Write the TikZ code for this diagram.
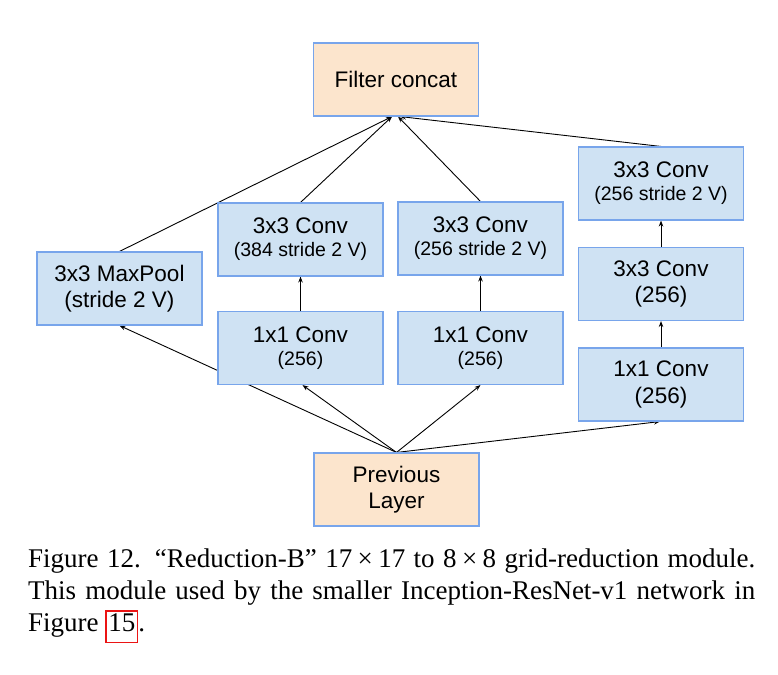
\documentclass[tikz,border=0pt]{standalone}
\usepackage{fontspec}
\setmainfont{Liberation Sans}
\newfontfamily\capfont{Liberation Serif}
\usetikzlibrary{arrows.meta,backgrounds}
\definecolor{boxblue}{RGB}{207,226,243}
\definecolor{boxorange}{RGB}{252,229,205}
\definecolor{edgeblue}{RGB}{120,165,235}
\definecolor{linkred}{RGB}{235,20,20}
\begin{document}
\begin{tikzpicture}[x=1pt,y=-1pt,
  layer/.style={draw=edgeblue,line width=1.1pt,minimum width=165pt,minimum height=73pt,inner sep=0pt,align=center},
  convbox/.style={layer,fill=boxblue},
  inbox/.style={layer,fill=boxorange},
  bigtwo/.style={font=\fontsize{22.5}{26.6}\selectfont},
  mixtwo/.style={font=\fontsize{22.5}{22.8}\selectfont},
  conn/.style={line width=0.9pt,-{Stealth[length=6pt,width=4.5pt]}}
]
\useasboundingbox (0,0) rectangle (778,674);
\newcommand{\subl}[1]{{\fontsize{19.5}{22.8}\selectfont #1}}

\node[inbox,bigtwo] (concat) at (396,79.5) {Filter concat};
\node[convbox,bigtwo] (pool) at (119.5,288.5) {3x3 MaxPool\\(stride 2 V)};
\node[convbox,mixtwo] (c384) at (300.5,239.5) {3x3 Conv\\\subl{(384 stride 2 V)}};
\node[convbox,mixtwo] (l1) at (300.5,348) {1x1 Conv\\\subl{(256)}};
\node[convbox,mixtwo] (m3) at (480.5,238.5) {3x3 Conv\\\subl{(256 stride 2 V)}};
\node[convbox,mixtwo] (m1) at (480.5,348) {1x1 Conv\\\subl{(256)}};
\node[convbox,mixtwo] (r3s) at (661,183.5) {3x3 Conv\\\subl{(256 stride 2 V)}};
\node[convbox,bigtwo] (r3) at (661,284) {3x3 Conv\\(256)};
\node[convbox,bigtwo] (r1) at (661,384.5) {1x1 Conv\\(256)};
\node[inbox,bigtwo] (prev) at (396.5,489.5) {Previous\\Layer};

\begin{pgfonlayer}{background}
\draw[conn] (pool.north) -- ([xshift=-4pt]concat.south);
\draw[conn] (c384.north) -- ([xshift=-4pt]concat.south);
\draw[conn] (m3.north) -- ([xshift=2pt]concat.south);
\draw[conn] (r3s.north) -- ([xshift=4pt]concat.south);
\draw[conn] (l1.north) -- (c384.south);
\draw[conn] (m1.north) -- (m3.south);
\draw[conn] (r1.north) -- (r3.south);
\draw[conn] (r3.north) -- (r3s.south);
\draw[conn] (prev.north) -- (pool.south);
\draw[conn] (prev.north) -- ([xshift=2pt]l1.south);
\draw[conn] (prev.north) -- (m1.south);
\draw[conn] (prev.north) -- ([xshift=-1pt]r1.south);
\end{pgfonlayer}

\node[anchor=base west,inner sep=0pt,text width=727pt,align=justify,
  font=\capfont\fontsize{27}{32}\selectfont] (caption) at (28,567)
  {Figure 12. “Reduction-B” \mbox{17\kern.2em×\kern.2em17} to \mbox{8\kern.2em×\kern.2em8} grid-reduction module.\linebreak
   This module used by the smaller Inception-ResNet-v1 network in\linebreak
   Figure {\setlength{\fboxsep}{1.5pt}\setlength{\fboxrule}{1.5pt}\fcolorbox{linkred}{white}{\rule[-9pt]{0pt}{25pt}15}}.};
\end{tikzpicture}
\end{document}
